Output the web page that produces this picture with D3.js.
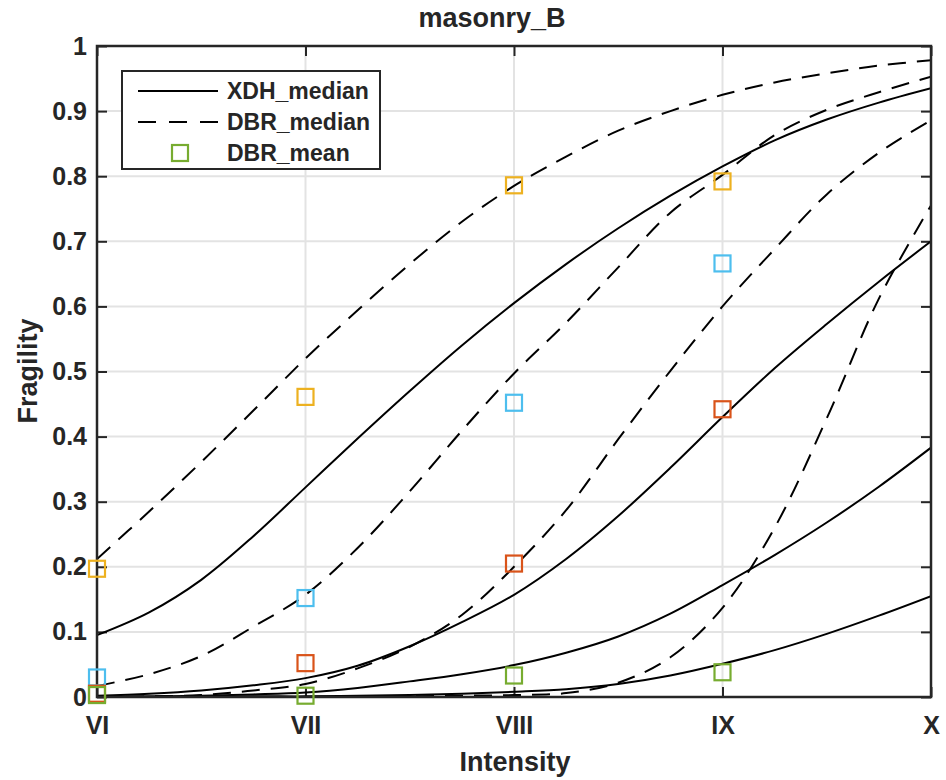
<!DOCTYPE html>
<html>
<head>
<meta charset="utf-8">
<script src="https://d3js.org/d3.v7.min.js"></script>
<style>
  body { margin: 0; background: white; }
  text { font-family: "Liberation Sans", Arial, sans-serif; font-weight: bold; fill: #262626; }
</style>
</head>
<body>
<svg id="chart" width="946" height="780"></svg>
<script>
// intensity grid shared by all fragility curves
var intensity = [6, 6.25, 6.5, 6.75, 7, 7.25, 7.5, 7.75, 8, 8.25, 8.5, 8.75, 9, 9.25, 9.5, 9.75, 10];

// XDH median curves (solid)
var xdhDS1 = [0.095, 0.13, 0.18, 0.247, 0.322, 0.397, 0.47, 0.54, 0.605, 0.665, 0.72, 0.77, 0.815, 0.855, 0.887, 0.913, 0.935];
var xdhDS2 = [0.002, 0.005, 0.01, 0.018, 0.029, 0.048, 0.078, 0.115, 0.157, 0.212, 0.278, 0.352, 0.43, 0.505, 0.573, 0.638, 0.70];
var xdhDS3 = [0.0, 0.001, 0.002, 0.004, 0.007, 0.014, 0.024, 0.035, 0.049, 0.068, 0.093, 0.128, 0.172, 0.218, 0.268, 0.323, 0.383];
var xdhDS4 = [0, 0, 0, 0.001, 0.001, 0.002, 0.003, 0.005, 0.008, 0.012, 0.02, 0.033, 0.051, 0.072, 0.097, 0.125, 0.155];

// DBR median curves (dashed)
var dbrDS1 = [0.212, 0.285, 0.361, 0.44, 0.52, 0.594, 0.665, 0.73, 0.785, 0.83, 0.87, 0.9, 0.925, 0.944, 0.958, 0.97, 0.978];
var dbrDS2 = [0.017, 0.035, 0.063, 0.108, 0.157, 0.229, 0.316, 0.409, 0.497, 0.575, 0.66, 0.744, 0.802, 0.863, 0.902, 0.929, 0.953];
var dbrDS3 = [0.0, 0.001, 0.003, 0.01, 0.02, 0.044, 0.077, 0.126, 0.2, 0.287, 0.396, 0.501, 0.60, 0.688, 0.772, 0.836, 0.886];
var dbrDS4 = [0, 0, 0, 0, 0, 0, 0.001, 0.002, 0.003, 0.006, 0.022, 0.061, 0.137, 0.26, 0.428, 0.612, 0.755];

// DBR mean values at integer intensities (squares)
var meanIntensity = [6, 7, 8, 9];
var meanDS1 = [0.197, 0.461, 0.786, 0.792];
var meanDS2 = [0.03, 0.152, 0.452, 0.666];
var meanDS3 = [0.005, 0.052, 0.205, 0.442];
var meanDS4 = [0.003, 0.002, 0.033, 0.038];

var xTicks = [6, 7, 8, 9, 10];
var xTickLabels = ["VI", "VII", "VIII", "IX", "X"];
var yTicks = [0, 0.1, 0.2, 0.3, 0.4, 0.5, 0.6, 0.7, 0.8, 0.9, 1];

var dsColors = ["#EDB120", "#4DBEEE", "#D95319", "#77AC30"];

var pLeft = 97, pRight = 931, pTop = 46, pBottom = 697;
var axisColor = "#262626";

var svg = d3.select("#chart");
svg.append("rect").attr("width", 946).attr("height", 780).attr("fill", "white");

var xs = d3.scaleLinear().domain([6, 10]).range([pLeft, pRight]);
var ys = d3.scaleLinear().domain([0, 1]).range([pBottom, pTop]);

// grid lines
var grid = svg.append("g");
grid.selectAll(".gx").data(xTicks).enter().append("line")
  .attr("x1", d => xs(d)).attr("x2", d => xs(d))
  .attr("y1", pTop).attr("y2", pBottom)
  .attr("stroke", "#e3e3e3").attr("stroke-width", 2);
grid.selectAll(".gy").data(yTicks).enter().append("line")
  .attr("x1", pLeft).attr("x2", pRight)
  .attr("y1", d => ys(d)).attr("y2", d => ys(d))
  .attr("stroke", "#e3e3e3").attr("stroke-width", 2);

// axes with inward ticks on all sides
var fmtY = d => d === 0 ? "0" : d === 1 ? "1" : d3.format(".1f")(d);

var axB = svg.append("g").attr("transform", "translate(0," + pBottom + ")")
  .call(d3.axisBottom(xs).tickValues(xTicks).tickSize(-10).tickPadding(20)
    .tickFormat((d, i) => xTickLabels[i]));
var axL = svg.append("g").attr("transform", "translate(" + pLeft + ",0)")
  .call(d3.axisLeft(ys).tickValues(yTicks).tickSize(-10).tickPadding(20).tickFormat(fmtY));
var axT = svg.append("g").attr("transform", "translate(0," + pTop + ")")
  .call(d3.axisTop(xs).tickValues(xTicks).tickSize(-10).tickFormat(""));
var axR = svg.append("g").attr("transform", "translate(" + pRight + ",0)")
  .call(d3.axisRight(ys).tickValues(yTicks).tickSize(-10).tickFormat(""));

[axB, axL, axT, axR].forEach(function(a) {
  a.select(".domain").remove();
  a.selectAll(".tick line").attr("stroke", axisColor).attr("stroke-width", 2);
  a.selectAll(".tick text").attr("font-size", 25).attr("font-family", null).attr("fill", axisColor);
});
axB.selectAll(".tick text").attr("dy", "0.71em").attr("y", 19);
axL.selectAll(".tick text").attr("x", -10);

// plot curves
svg.append("clipPath").attr("id", "plotclip")
  .append("rect").attr("x", pLeft).attr("y", pTop).attr("width", pRight - pLeft).attr("height", pBottom - pTop);
var plot = svg.append("g").attr("clip-path", "url(#plotclip)");

var line = d3.line()
  .x((d, i) => xs(intensity[i]))
  .y(d => ys(d))
  .curve(d3.curveCatmullRom.alpha(0.5));

var xdhCurves = [xdhDS1, xdhDS2, xdhDS3, xdhDS4];
var dbrCurves = [dbrDS1, dbrDS2, dbrDS3, dbrDS4];
var meanSets = [meanDS1, meanDS2, meanDS3, meanDS4];

for (var k = 0; k < 4; k++) {
  plot.append("path").datum(xdhCurves[k])
    .attr("d", line).attr("fill", "none")
    .attr("stroke", "black").attr("stroke-width", 2);
  plot.append("path").datum(dbrCurves[k])
    .attr("d", line).attr("fill", "none")
    .attr("stroke", "black").attr("stroke-width", 2)
    .attr("stroke-dasharray", "18,11");
}

// axes box
svg.append("rect")
  .attr("x", pLeft).attr("y", pTop).attr("width", pRight - pLeft).attr("height", pBottom - pTop)
  .attr("fill", "none").attr("stroke", axisColor).attr("stroke-width", 2.5);

// mean markers (not clipped, like MATLAB markers on the axis edge)
var sq = 16;
var marks = svg.append("g");
for (var k = 0; k < 4; k++) {
  marks.selectAll(".m" + k).data(meanSets[k]).enter().append("rect")
    .attr("x", (d, i) => xs(meanIntensity[i]) - sq / 2)
    .attr("y", d => ys(d) - sq / 2)
    .attr("width", sq).attr("height", sq)
    .attr("fill", "none").attr("stroke", dsColors[k]).attr("stroke-width", 2.2);
}

// title and labels
svg.append("text").attr("x", 492).attr("y", 27).attr("text-anchor", "middle")
  .attr("font-size", 27).attr("fill", "black").text("masonry_B");
svg.append("text").attr("x", 515).attr("y", 771).attr("text-anchor", "middle")
  .attr("font-size", 27).text("Intensity");
svg.append("text").attr("transform", "translate(37,371) rotate(-90)").attr("text-anchor", "middle")
  .attr("font-size", 27).text("Fragility");

// legend
var lg = svg.append("g");
lg.append("rect").attr("x", 122).attr("y", 71).attr("width", 258).attr("height", 98)
  .attr("fill", "white").attr("stroke", axisColor).attr("stroke-width", 2);
var legendNames = ["XDH_median", "DBR_median", "DBR_mean"];
var rowY = [91, 122, 153];
lg.append("line").attr("x1", 138).attr("x2", 218).attr("y1", rowY[0]).attr("y2", rowY[0])
  .attr("stroke", "black").attr("stroke-width", 2);
lg.append("line").attr("x1", 138).attr("x2", 218).attr("y1", rowY[1]).attr("y2", rowY[1])
  .attr("stroke", "black").attr("stroke-width", 2).attr("stroke-dasharray", "18,13");
lg.append("rect").attr("x", 180 - sq / 2).attr("y", rowY[2] - sq / 2).attr("width", sq).attr("height", sq)
  .attr("fill", "none").attr("stroke", dsColors[3]).attr("stroke-width", 2.2);
lg.selectAll(".lt").data(legendNames).enter().append("text")
  .attr("x", 227).attr("y", (d, i) => rowY[i] + 8)
  .attr("font-size", 23).attr("fill", "black").text(d => d);
</script>
</body>
</html>
